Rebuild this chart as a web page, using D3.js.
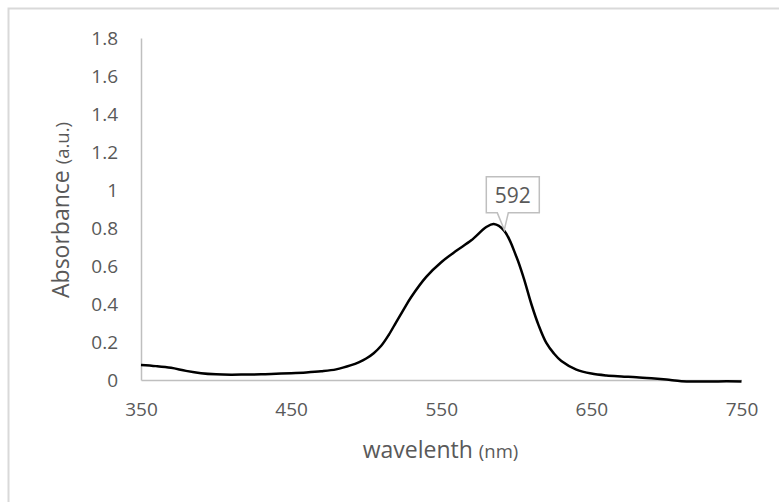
<!DOCTYPE html>
<meta charset="utf-8">
<script src="https://d3js.org/d3.v7.min.js"></script>
<style>
  body { margin: 0; background: #fff; }
  text { font-family: "Open Sans", sans-serif; fill: #595959; }
</style>
<body>
<div id="chart"></div>
<script>
// spectrum
var wavelengths = [350, 360, 370, 380, 390, 400, 410, 420, 430, 440, 450, 460, 470, 480, 490,
  495, 500, 505, 510, 515, 520, 525, 530, 540, 550, 560, 570, 580, 585, 592, 600, 605, 610,
  615, 620, 625, 630, 640, 650, 660, 670, 680, 690, 700, 710, 720, 730, 740, 750];
var absorbance = [0.079, 0.073, 0.064, 0.048, 0.036, 0.030, 0.028, 0.029, 0.030, 0.033, 0.036,
  0.040, 0.046, 0.056, 0.078, 0.093, 0.113, 0.141, 0.180, 0.237, 0.305, 0.372, 0.437, 0.543,
  0.620, 0.680, 0.735, 0.805, 0.821, 0.785, 0.650, 0.535, 0.400, 0.285, 0.195, 0.140, 0.100,
  0.055, 0.034, 0.024, 0.019, 0.015, 0.009, 0.002, -0.006, -0.008, -0.008, -0.007, -0.008];
var xTicks = [350, 450, 550, 650, 750];
var yTicks = [0, 0.2, 0.4, 0.6, 0.8, 1, 1.2, 1.4, 1.6, 1.8];
var peakLabel = 592;

var width = 779, height = 502;
var margin = {top: 38, right: 37.5, bottom: 122, left: 141};

var svg = d3.select("#chart").append("svg")
  .attr("width", width)
  .attr("height", height);

// chart border (runs off right/bottom like the screenshot)
svg.append("rect")
  .attr("x", 8.5).attr("y", 8.5)
  .attr("width", width + 20).attr("height", height + 20)
  .attr("fill", "none")
  .attr("stroke", "#d9d9d9")
  .attr("stroke-width", 2);

var x = d3.scaleLinear().domain([350, 750]).range([margin.left, width - margin.right]);
var y = d3.scaleLinear().domain([0, 1.8]).range([height - margin.bottom, margin.top]);

// axes
var xAxis = svg.append("g")
  .attr("transform", "translate(0," + y(0) + ")")
  .call(d3.axisBottom(x).tickValues(xTicks).tickSize(0).tickPadding(23).tickFormat(d3.format("d")));
var yAxis = svg.append("g")
  .attr("transform", "translate(" + x(350) + ",0)")
  .call(d3.axisLeft(y).tickValues(yTicks).tickSize(0).tickPadding(23).tickFormat(function(d) { return String(d); }));

[xAxis, yAxis].forEach(function(g) {
  g.select(".domain").attr("stroke", "#bfbfbf").attr("stroke-width", 1.5);
  g.selectAll("text")
    .attr("fill", "#595959")
    .style("font-family", "'Open Sans', sans-serif")
    .style("font-size", "19px");
});

// line
var data = wavelengths.map(function(w, i) { return {w: w, a: absorbance[i]}; });
var line = d3.line()
  .x(function(d) { return x(d.w); })
  .y(function(d) { return y(d.a); })
  .curve(d3.curveCatmullRom);

svg.append("path")
  .datum(data)
  .attr("d", line)
  .attr("fill", "none")
  .attr("stroke", "#000")
  .attr("stroke-width", 2.5);

// callout for the peak label
var pk = data.find(function(d) { return d.w === peakLabel; });
var px = x(pk.w), py = y(pk.a);
var bx0 = px - 18, bx1 = px + 35, by0 = py - 54, by1 = py - 18;
svg.append("path")
  .attr("d", "M" + bx0 + "," + by0 + "H" + bx1 + "V" + by1 + "H" + (px + 4) +
    "L" + px + "," + (py - 1) + "L" + (px - 7) + "," + by1 + "H" + bx0 + "Z")
  .attr("fill", "#fff")
  .attr("stroke", "#bfbfbf")
  .attr("stroke-width", 1.5);
svg.append("text")
  .attr("x", (bx0 + bx1) / 2)
  .attr("y", by1 - 10)
  .attr("text-anchor", "middle")
  .style("font-size", "21px")
  .text(peakLabel);

// axis titles
var yt = svg.append("text")
  .attr("transform", "translate(69,210) rotate(-90)")
  .attr("text-anchor", "middle")
  .style("font-size", "23px");
yt.append("tspan").text("Absorbance ");
yt.append("tspan").style("font-size", "18.5px").text("(a.u.)");

var xt = svg.append("text")
  .attr("x", 440.5)
  .attr("y", 458)
  .attr("text-anchor", "middle")
  .style("font-size", "23px");
xt.append("tspan").text("wavelenth ");
xt.append("tspan").style("font-size", "18.5px").text("(nm)");
</script>
</body>
